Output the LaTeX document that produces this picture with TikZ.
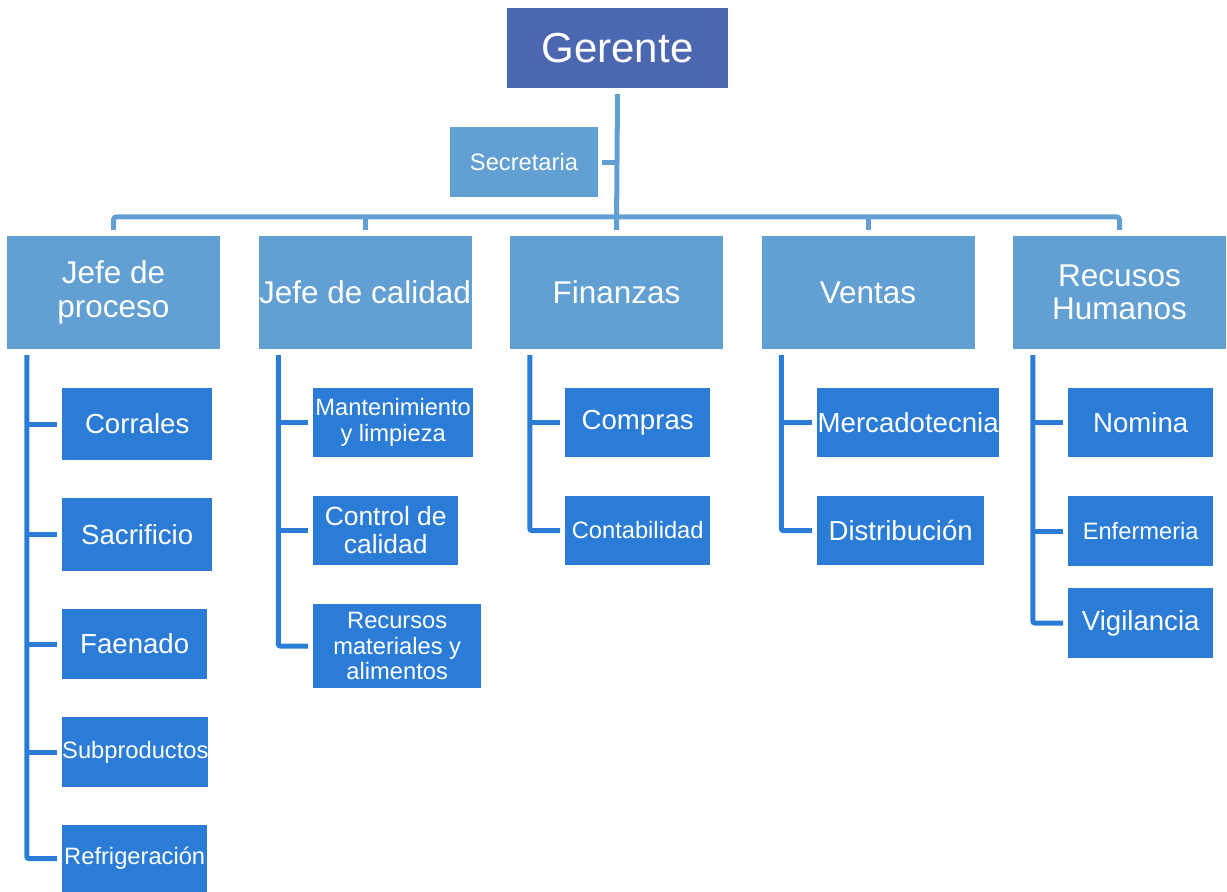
\documentclass[tikz,border=0pt]{standalone}
\usepackage{fontspec}
\setmainfont{Liberation Sans}
\definecolor{bossblue}{RGB}{74,103,176}
\definecolor{deptblue}{RGB}{98,159,210}
\definecolor{unitblue}{RGB}{43,124,214}
\begin{document}
\begin{tikzpicture}[x=1pt,y=-1pt,
  box/.style={text=white,align=center,inner sep=0pt},
  boss/.style={box,fill=bossblue,minimum width=221,minimum height=80,font=\fontsize{42}{44}\selectfont},
  secbox/.style={box,fill=deptblue,minimum width=148,minimum height=70,font=\fontsize{23.7}{25.3}\selectfont},
  dept/.style={box,fill=deptblue,minimum width=213,minimum height=113,font=\fontsize{31.5}{33.5}\selectfont},
  unit/.style={box,fill=unitblue,anchor=west,minimum height=70,font=\fontsize{27.6}{29.5}\selectfont},
  usmall/.style={font=\fontsize{23.7}{25.3}\selectfont},
  toplink/.style={draw=deptblue,line width=5pt},
  sublink/.style={draw=unitblue,line width=5pt,rounded corners=2pt}]
\useasboundingbox (0,0) rectangle (1227,892);
\node[boss] (ger) at (617.5,48) {Gerente};
\node[secbox] (sec) at (524,162) {Secretaria};
\node[dept] (jp) at (113.5,292.5) {Jefe de\\proceso};
\node[dept] (jc) at (365,292.5) {Jefe de calidad};
\node[dept] (fin) at (616.5,292.5) {Finanzas};
\node[dept] (ven) at (868,292.5) {Ventas};
\node[dept] (rh) at (1119.5,292.5) {Recusos\\Humanos};
\node[unit,minimum width=150,minimum height=72] (corr) at (62,424) {Corrales};
\node[unit,minimum width=150,minimum height=73] (sacr) at (62,534.5) {Sacrificio};
\node[unit,minimum width=145] (faen) at (62,644) {Faenado};
\node[unit,usmall,minimum width=145] (subp) at (62,752) {Subproductos};
\node[unit,usmall,minimum width=145,minimum height=67] (refr) at (62,858.5) {Refrigeración};
\node[unit,usmall,minimum width=160,minimum height=69] (mant) at (313,422.5) {Mantenimiento\\y limpieza};
\node[unit,minimum width=145,minimum height=69,font=\fontsize{26.4}{28}\selectfont] (ctrl) at (313,530.5) {Control de\\calidad};
\node[unit,usmall,minimum width=168,minimum height=84] (recm) at (313,646) {Recursos\\materiales y\\alimentos};
\node[unit,minimum width=145,minimum height=69] (comp) at (565,422.5) {Compras};
\node[unit,usmall,minimum width=145,minimum height=69] (cont) at (565,530.5) {Contabilidad};
\node[unit,minimum width=182,minimum height=69] (merc) at (817,422.5) {Mercadotecnia};
\node[unit,minimum width=167,minimum height=69] (dist) at (817,530.5) {Distribución};
\node[unit,minimum width=145,minimum height=69] (nom) at (1068,422.5) {Nomina};
\node[unit,usmall,minimum width=145,minimum height=70] (enf) at (1068,531) {Enfermeria};
\node[unit,minimum width=145,minimum height=70] (vig) at (1068,623) {Vigilancia};
\draw[toplink] ([yshift=-6pt]ger.south) -- ([yshift=6pt]fin.north);
\draw[toplink] ([xshift=4pt]sec.east) -- (sec.east -| ger.south);
\draw[toplink,rounded corners=3pt] ([yshift=6pt]jp.north) |- ([yshift=19pt]rh.north) -- ([yshift=6pt]rh.north);
\draw[toplink] ([yshift=6pt]jc.north) -- ++(0,-13);
\draw[toplink] ([yshift=6pt]ven.north) -- ++(0,-13);
\draw[sublink] ([xshift=20pt,yshift=-6pt]jp.south west) |- ([xshift=-5pt]refr.west);
\foreach \n in {corr,sacr,faen,subp} \draw[sublink] ([xshift=-5pt]\n.west) -- ++(-30,0);
\draw[sublink] ([xshift=20pt,yshift=-6pt]jc.south west) |- ([xshift=-5pt]recm.west);
\foreach \n in {mant,ctrl} \draw[sublink] ([xshift=-5pt]\n.west) -- ++(-30,0);
\draw[sublink] ([xshift=20pt,yshift=-6pt]fin.south west) |- ([xshift=-5pt]cont.west);
\draw[sublink] ([xshift=-5pt]comp.west) -- ++(-30,0);
\draw[sublink] ([xshift=20pt,yshift=-6pt]ven.south west) |- ([xshift=-5pt]dist.west);
\draw[sublink] ([xshift=-5pt]merc.west) -- ++(-31,0);
\draw[sublink] ([xshift=20pt,yshift=-6pt]rh.south west) |- ([xshift=-5pt]vig.west);
\foreach \n in {nom,enf} \draw[sublink] ([xshift=-5pt]\n.west) -- ++(-31,0);
\end{tikzpicture}
\end{document}
